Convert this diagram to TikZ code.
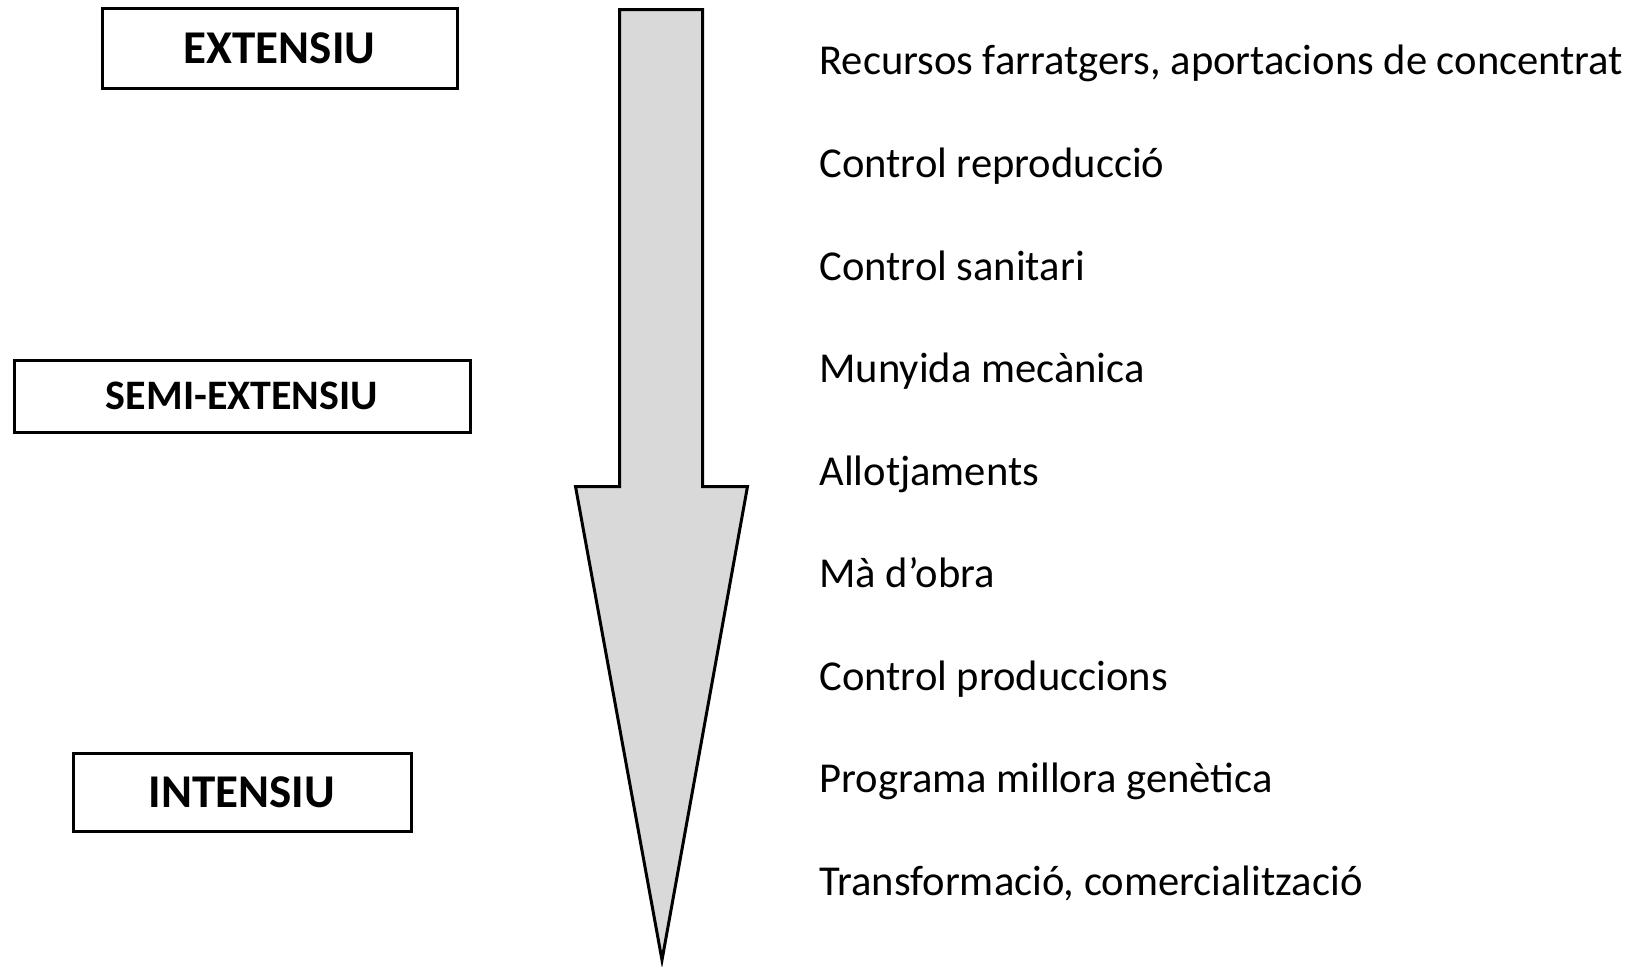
\documentclass[tikz,border=0pt]{standalone}
\usepackage{fontspec}
\setmainfont{Carlito}
\definecolor{arrowgray}{HTML}{D9D9D9}
\begin{document}
\begin{tikzpicture}[x=0.5pt,y=-0.5pt,
    level node/.style={draw,line width=1.5pt,inner sep=0pt,font=\bfseries},
    item node/.style={anchor=base west,inner sep=0pt,font=\fontsize{21.3}{25}\selectfont}]
\useasboundingbox (0,0) rectangle (1634,966);
% big arrow
\draw[line width=1.5pt,fill=arrowgray] (619.5,9.5) -- (702.5,9.5) -- (702.5,486.5) -- (747.5,486.5)
    -- (662,960) -- (575.5,486.5) -- (619.5,486.5) -- cycle;
% levels
\node[level node,minimum width=177.5pt,minimum height=40pt,font=\bfseries\fontsize{23.5}{28}\selectfont] (ext) at (279.5,48) {EXTENSIU};
\node[level node,minimum width=228pt,minimum height=36pt,font=\bfseries\fontsize{21}{25}\selectfont] (semi) at (242,396) {SEMI-EXTENSIU};
\node[level node,minimum width=169pt,minimum height=39pt,font=\bfseries\fontsize{23.5}{28}\selectfont] (int) at (242,792) {INTENSIU};
% items
\node[item node] (rec) at (819,74) {Recursos farratgers, aportacions de concentrat};
\node[item node] (repro) at (819,177.5) {Control reproducció};
\node[item node] (sani) at (819,280) {Control sanitari};
\node[item node] (muny) at (819,382.5) {Munyida mecànica};
\node[item node] (allot) at (819,485) {Allotjaments};
\node[item node] (obra) at (819,587.5) {Mà d’obra};
\node[item node] (prod) at (819,690) {Control produccions};
\node[item node] (gen) at (819,792.5) {Programa millora genètica};
\node[item node] (trans) at (819,895) {Transformació, comercialització};
\end{tikzpicture}
\end{document}
